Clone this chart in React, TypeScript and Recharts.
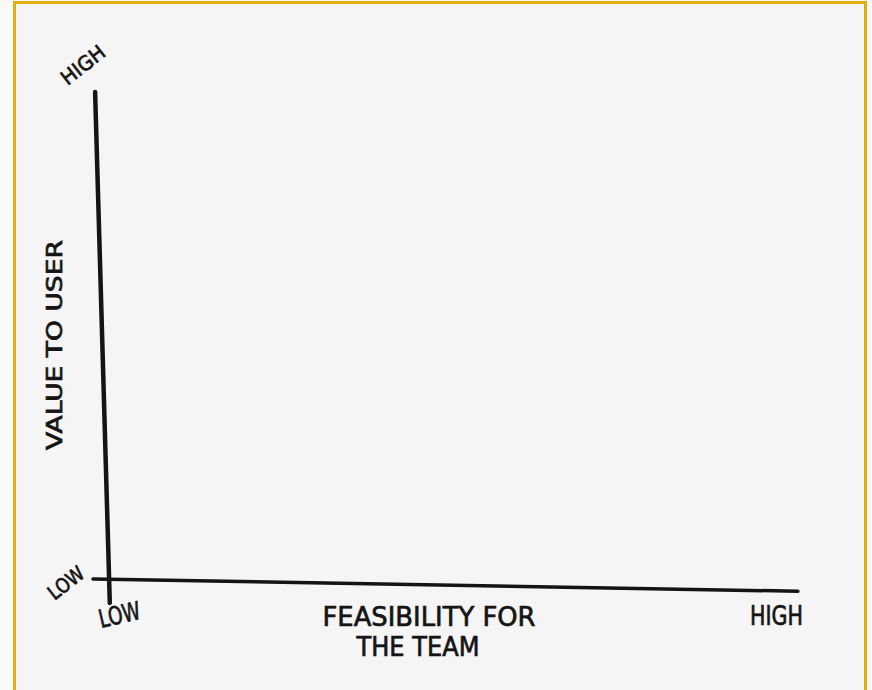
import { ScatterChart, Scatter, XAxis, YAxis, ReferenceLine } from 'recharts'

const xTicks = [0, 10]
const yTicks = [0, 10]
const xTickLabels = ['LOW', 'HIGH']
const yTickLabels = ['LOW', 'HIGH']
const xTitle = ['FEASIBILITY FOR', 'THE TEAM']
const yTitle = 'VALUE TO USER'
const points: { x: number; y: number }[] = []

// the axes are hand drawn, so they lean a little (data units)
const yAxisStroke = [{ x: -0.07, y: 10 }, { x: 0.14, y: -0.47 }]
const xAxisStroke = [{ x: -0.1, y: 0.02 }, { x: 9.97, y: -0.23 }]

const FONT = '"DejaVu Sans", "Liberation Sans", sans-serif'
const INK = '#141414'
// marker strokes are a bit heavier than the font
const pen = { fill: INK, stroke: INK, strokeWidth: 0.7 }

function XTick(props: any) {
  const { x, y, index } = props
  const label = xTickLabels[index]
  if (index === 0) {
    const bx = x + 1
    const by = y + 40
    return (
      <text x={bx} y={by} transform={`rotate(-13 ${bx} ${by})`} fontFamily={FONT} fontSize={25} {...pen}
        textLength={42} lengthAdjust="spacingAndGlyphs">
        {label}
      </text>
    )
  }
  return (
    <text x={x + 3} y={y + 37} textAnchor="end" fontFamily={FONT} fontSize={26} {...pen}
      textLength={53} lengthAdjust="spacingAndGlyphs">
      {label}
    </text>
  )
}

function YTick(props: any) {
  const { y, index } = props
  const label = yTickLabels[index]
  const cx = index === 0 ? 66 : 83
  const cy = index === 0 ? y + 3 : y - 27
  return (
    <text x={cx} y={cy} textAnchor="middle" dominantBaseline="central" transform={`rotate(-38 ${cx} ${cy})`}
      fontFamily={FONT} fontSize={20} {...pen} textLength={index === 0 ? 40 : 50} lengthAdjust="spacingAndGlyphs">
      {label}
    </text>
  )
}

function XTitle(props: any) {
  const { x, y, width } = props.viewBox
  const mid = x + width / 2
  return (
    <g fontFamily={FONT} fontSize={27} {...pen}>
      <text x={mid - 21} y={y + 46} textAnchor="middle" textLength={213} lengthAdjust="spacingAndGlyphs">{xTitle[0]}</text>
      <text x={mid - 32} y={y + 76} textAnchor="middle" textLength={123} lengthAdjust="spacingAndGlyphs">{xTitle[1]}</text>
    </g>
  )
}

function YTitle(props: any) {
  const { y, height } = props.viewBox
  const cx = 55
  const cy = y + height / 2 + 9
  return (
    <text x={cx} y={cy} textAnchor="middle" dominantBaseline="central" transform={`rotate(-90 ${cx} ${cy})`}
      fontFamily={FONT} fontSize={21} {...pen} textLength={210} lengthAdjust="spacingAndGlyphs">
      {yTitle}
    </text>
  )
}

export default function App() {
  return (
    <div style={{ position: 'fixed', left: 0, top: 0, width: 872, height: 690, background: '#f9f9f9', overflow: 'hidden' }}>
      <div style={{
        position: 'absolute', left: 13, top: 1, width: 854, height: 720, boxSizing: 'border-box',
        border: '3px solid #e2ae0c', background: '#f5f5f5',
      }} />
      <ScatterChart width={872} height={690} margin={{ top: 92, right: 72, bottom: 50, left: 40 }}
        style={{ position: 'absolute', left: 0, top: 0 }}>
        <XAxis type="number" dataKey="x" domain={[0, 10]} allowDataOverflow ticks={xTicks} height={60} axisLine={false}
          tickLine={false} tick={XTick} interval={0} label={{ content: XTitle }} />
        <YAxis type="number" dataKey="y" domain={[0, 10]} allowDataOverflow ticks={yTicks} width={60} axisLine={false}
          tickLine={false} tick={YTick} interval={0} label={{ content: YTitle }} />
        <ReferenceLine segment={yAxisStroke} stroke={INK} strokeWidth={4.5} strokeLinecap="round" ifOverflow="visible" />
        <ReferenceLine segment={xAxisStroke} stroke={INK} strokeWidth={3.5} strokeLinecap="round" ifOverflow="visible" />
        <Scatter data={points} fill={INK} isAnimationActive={false} />
      </ScatterChart>
    </div>
  )
}
